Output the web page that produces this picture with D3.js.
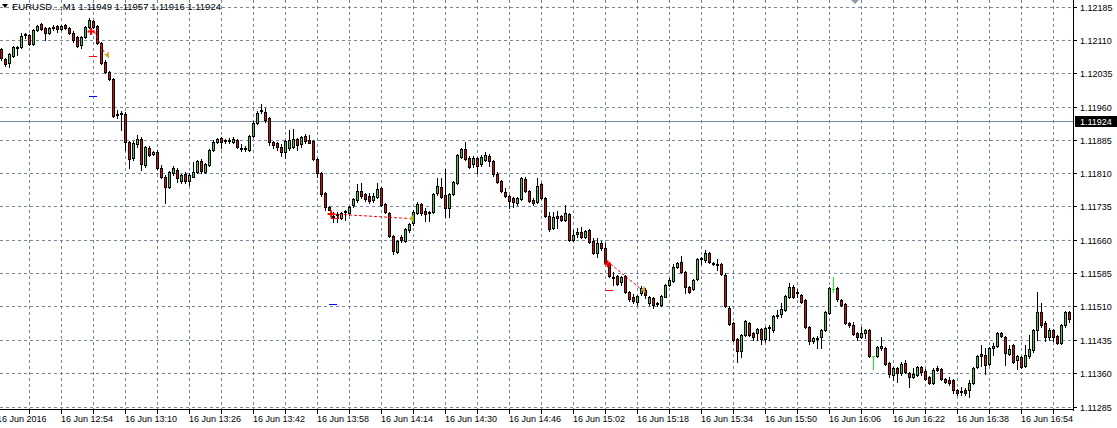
<!DOCTYPE html>
<html><head><meta charset="utf-8">
<script src="https://cdn.jsdelivr.net/npm/d3@7"></script>
<style>
body{margin:0;background:#fff}
svg{display:block}
text{font-family:"Liberation Sans",Arial,sans-serif;font-size:9px;fill:#000}
</style>
</head><body>
<svg id="c" width="1117" height="428"></svg>
<script>
const title = "EURUSD...,M1  1.11949 1.11957 1.11916 1.11924";
const currentPrice = 1.11924;
const priceTicks = [1.12185,1.12110,1.12035,1.11960,1.11885,1.11810,1.11735,1.11660,1.11585,1.11510,1.11435,1.11360,1.11285];
const timeLabels = ["16 Jun 2016","16 Jun 12:54","16 Jun 13:10","16 Jun 13:26","16 Jun 13:42","16 Jun 13:58","16 Jun 14:14","16 Jun 14:30","16 Jun 14:46","16 Jun 15:02","16 Jun 15:18","16 Jun 15:34","16 Jun 15:50","16 Jun 16:06","16 Jun 16:22","16 Jun 16:38","16 Jun 16:54"];
const timeLabelBars = [-1,15,31,47,63,79,95,111,127,143,159,175,191,207,223,239,255];

const open = [
1.12090,1.12067,1.12058,1.12074,1.12092,1.12094,1.12124,1.12121,1.12101,1.12133,
1.12146,1.12137,1.12126,1.12137,1.12142,1.12135,1.12144,1.12137,1.12126,1.12117,
1.12099,1.12117,1.12139,1.12153,1.12142,1.12103,1.12061,1.12038,1.12022,1.11944,
1.11945,1.11944,1.11881,1.11845,1.11876,1.11887,1.11829,1.11867,1.11854,1.11858,
1.11822,1.11802,1.11779,1.11811,1.11818,1.11793,1.11808,1.11793,1.11802,1.11813,
1.11838,1.11813,1.11829,1.11862,1.11881,1.11890,1.11885,1.11884,1.11881,1.11885,
1.11867,1.11865,1.11862,1.11894,1.11923,1.11950,1.11948,1.11934,1.11881,1.11878,
1.11869,1.11858,1.11867,1.11869,1.11887,1.11876,1.11894,1.11885,1.11883,1.11842,
1.11811,1.11766,1.11734,1.11714,1.11715,1.11709,1.11725,1.11721,1.11739,1.11750,
1.11770,1.11763,1.11759,1.11750,1.11757,1.11777,1.11741,1.11721,1.11669,1.11633,
1.11667,1.11658,1.11682,1.11698,1.11721,1.11741,1.11725,1.11723,1.11723,1.11766,
1.11779,1.11761,1.11732,1.11763,1.11788,1.11847,1.11865,1.11844,1.11831,1.11844,
1.11831,1.11840,1.11849,1.11838,1.11808,1.11793,1.11768,1.11759,1.11754,1.11743,
1.11752,1.11797,1.11770,1.11750,1.11745,1.11786,1.11754,1.11714,1.11687,1.11714,
1.11714,1.11705,1.11718,1.11660,1.11673,1.11678,1.11667,1.11682,1.11658,1.11631,
1.11653,1.11642,1.11608,1.11577,1.11579,1.11565,1.11579,1.11543,1.11532,1.11520,
1.11541,1.11547,1.11518,1.11529,1.11517,1.11514,1.11532,1.11559,1.11568,1.11599,
1.11610,1.11588,1.11554,1.11550,1.11572,1.11616,1.11615,1.11631,1.11608,1.11606,
1.11606,1.11581,1.11507,1.11473,1.11437,1.11410,1.11446,1.11473,1.11451,1.11451,
1.11460,1.11437,1.11463,1.11457,1.11488,1.11493,1.11502,1.11532,1.11554,1.11542,
1.11536,1.11525,1.11464,1.11433,1.11439,1.11442,1.11457,1.11496,1.11550,1.11552,
1.11525,1.11516,1.11473,1.11469,1.11451,1.11442,1.11451,1.11457,1.11399,1.11399,
1.11417,1.11417,1.11383,1.11356,1.11372,1.11361,1.11383,1.11361,1.11352,1.11356,
1.11374,1.11365,1.11352,1.11338,1.11372,1.11370,1.11347,1.11345,1.11345,1.11322,
1.11320,1.11322,1.11322,1.11338,1.11374,1.11403,1.11401,1.11381,1.11417,1.11421,
1.11451,1.11442,1.11403,1.11424,1.11390,1.11397,1.11376,1.11399,1.11412,1.11457,
1.11498,1.11473,1.11442,1.11457,1.11444,1.11428,1.11469,1.11498];
const high = [
1.12092,1.12070,1.12081,1.12097,1.12097,1.12126,1.12125,1.12124,1.12135,1.12144,
1.12148,1.12138,1.12139,1.12144,1.12144,1.12144,1.12146,1.12139,1.12130,1.12119,
1.12119,1.12142,1.12160,1.12155,1.12144,1.12106,1.12065,1.12040,1.12025,1.11953,
1.11950,1.11948,1.11883,1.11883,1.11896,1.11892,1.11872,1.11872,1.11860,1.11863,
1.11829,1.11806,1.11815,1.11827,1.11822,1.11809,1.11813,1.11811,1.11836,1.11840,
1.11842,1.11833,1.11865,1.11885,1.11890,1.11892,1.11887,1.11890,1.11892,1.11887,
1.11876,1.11872,1.11896,1.11928,1.11950,1.11966,1.11957,1.11937,1.11883,1.11881,
1.11876,1.11885,1.11907,1.11910,1.11890,1.11894,1.11898,1.11896,1.11885,1.11845,
1.11813,1.11768,1.11736,1.11723,1.11723,1.11723,1.11727,1.11736,1.11754,1.11786,
1.11788,1.11766,1.11766,1.11766,1.11788,1.11779,1.11743,1.11723,1.11671,1.11660,
1.11671,1.11687,1.11698,1.11727,1.11745,1.11743,1.11732,1.11725,1.11766,1.11799,
1.11799,1.11820,1.11766,1.11793,1.11853,1.11867,1.11880,1.11849,1.11849,1.11847,
1.11851,1.11858,1.11853,1.11840,1.11813,1.11795,1.11777,1.11761,1.11757,1.11757,
1.11802,1.11802,1.11772,1.11754,1.11799,1.11788,1.11757,1.11723,1.11723,1.11725,
1.11716,1.11739,1.11721,1.11682,1.11687,1.11689,1.11682,1.11685,1.11664,1.11664,
1.11658,1.11653,1.11610,1.11588,1.11581,1.11578,1.11581,1.11545,1.11538,1.11536,
1.11556,1.11552,1.11534,1.11532,1.11520,1.11536,1.11561,1.11574,1.11606,1.11610,
1.11624,1.11590,1.11556,1.11572,1.11619,1.11622,1.11637,1.11633,1.11610,1.11617,
1.11608,1.11586,1.11511,1.11475,1.11439,1.11448,1.11480,1.11475,1.11453,1.11462,
1.11462,1.11464,1.11469,1.11491,1.11502,1.11518,1.11536,1.11563,1.11559,1.11550,
1.11538,1.11527,1.11466,1.11442,1.11444,1.11460,1.11500,1.11554,1.11577,1.11554,
1.11527,1.11518,1.11475,1.11475,1.11453,1.11464,1.11459,1.11460,1.11399,1.11421,
1.11442,1.11419,1.11385,1.11374,1.11374,1.11385,1.11390,1.11362,1.11372,1.11376,
1.11376,1.11370,1.11354,1.11372,1.11376,1.11372,1.11349,1.11352,1.11347,1.11325,
1.11329,1.11327,1.11345,1.11374,1.11401,1.11424,1.11417,1.11419,1.11428,1.11453,
1.11453,1.11443,1.11424,1.11426,1.11401,1.11399,1.11424,1.11446,1.11460,1.11543,
1.11518,1.11478,1.11462,1.11460,1.11446,1.11471,1.11500,1.11500];
const low = [
1.12065,1.12052,1.12049,1.12072,1.12076,1.12092,1.12114,1.12099,1.12099,1.12130,
1.12133,1.12110,1.12124,1.12133,1.12128,1.12133,1.12135,1.12124,1.12106,1.12094,
1.12092,1.12115,1.12137,1.12137,1.12101,1.12056,1.12036,1.12020,1.11937,1.11935,
1.11908,1.11863,1.11822,1.11840,1.11869,1.11818,1.11824,1.11849,1.11851,1.11820,
1.11800,1.11743,1.11777,1.11806,1.11791,1.11788,1.11788,1.11784,1.11801,1.11811,
1.11811,1.11811,1.11827,1.11860,1.11878,1.11867,1.11878,1.11878,1.11878,1.11867,
1.11860,1.11860,1.11860,1.11892,1.11921,1.11946,1.11925,1.11874,1.11867,1.11862,
1.11849,1.11844,1.11862,1.11867,1.11862,1.11869,1.11878,1.11877,1.11840,1.11802,
1.11759,1.11727,1.11727,1.11700,1.11700,1.11707,1.11705,1.11716,1.11734,1.11745,
1.11754,1.11748,1.11743,1.11745,1.11754,1.11736,1.11720,1.11667,1.11628,1.11631,
1.11655,1.11655,1.11678,1.11694,1.11718,1.11716,1.11703,1.11703,1.11721,1.11761,
1.11754,1.11712,1.11712,1.11761,1.11786,1.11844,1.11840,1.11822,1.11824,1.11811,
1.11826,1.11838,1.11826,1.11804,1.11788,1.11767,1.11757,1.11732,1.11734,1.11739,
1.11750,1.11768,1.11745,1.11739,1.11743,1.11752,1.11712,1.11680,1.11685,1.11687,
1.11703,1.11703,1.11658,1.11658,1.11667,1.11664,1.11664,1.11653,1.11628,1.11622,
1.11637,1.11608,1.11577,1.11559,1.11559,1.11559,1.11541,1.11523,1.11518,1.11514,
1.11536,1.11529,1.11514,1.11507,1.11511,1.11511,1.11531,1.11556,1.11565,1.11597,
1.11586,1.11541,1.11541,1.11547,1.11570,1.11606,1.11610,1.11608,1.11604,1.11592,
1.11581,1.11509,1.11469,1.11433,1.11385,1.11397,1.11444,1.11444,1.11435,1.11435,
1.11426,1.11430,1.11435,1.11453,1.11484,1.11487,1.11500,1.11529,1.11529,1.11532,
1.11518,1.11462,1.11426,1.11428,1.11417,1.11417,1.11455,1.11493,1.11543,1.11523,
1.11511,1.11471,1.11464,1.11446,1.11435,1.11440,1.11440,1.11397,1.11370,1.11397,
1.11412,1.11379,1.11352,1.11345,1.11340,1.11356,1.11361,1.11329,1.11349,1.11354,
1.11356,1.11345,1.11336,1.11336,1.11365,1.11345,1.11338,1.11334,1.11316,1.11311,
1.11311,1.11311,1.11307,1.11336,1.11372,1.11376,1.11358,1.11379,1.11401,1.11419,
1.11442,1.11379,1.11401,1.11383,1.11370,1.11372,1.11374,1.11394,1.11408,1.11435,
1.11464,1.11433,1.11435,1.11433,1.11426,1.11426,1.11464,1.11475];
const close = [
1.12070,1.12056,1.12079,1.12094,1.12094,1.12119,1.12121,1.12101,1.12133,1.12142,
1.12135,1.12126,1.12137,1.12139,1.12135,1.12142,1.12137,1.12126,1.12110,1.12097,
1.12117,1.12139,1.12155,1.12139,1.12103,1.12058,1.12038,1.12022,1.11939,1.11941,
1.11946,1.11881,1.11842,1.11878,1.11887,1.11831,1.11869,1.11851,1.11858,1.11822,
1.11802,1.11779,1.11813,1.11822,1.11800,1.11806,1.11793,1.11806,1.11813,1.11838,
1.11815,1.11831,1.11862,1.11881,1.11887,1.11881,1.11883,1.11885,1.11887,1.11869,
1.11865,1.11867,1.11894,1.11923,1.11946,1.11952,1.11930,1.11881,1.11874,1.11869,
1.11858,1.11883,1.11885,1.11887,1.11874,1.11892,1.11883,1.11878,1.11842,1.11811,
1.11763,1.11734,1.11728,1.11712,1.11717,1.11721,1.11726,1.11734,1.11752,1.11770,
1.11759,1.11752,1.11748,1.11759,1.11775,1.11739,1.11722,1.11669,1.11635,1.11658,
1.11660,1.11685,1.11696,1.11723,1.11741,1.11721,1.11718,1.11722,1.11763,1.11781,
1.11757,1.11732,1.11763,1.11790,1.11851,1.11865,1.11842,1.11824,1.11844,1.11826,
1.11847,1.11851,1.11838,1.11808,1.11790,1.11769,1.11759,1.11748,1.11745,1.11754,
1.11799,1.11770,1.11748,1.11743,1.11781,1.11754,1.11714,1.11685,1.11712,1.11710,
1.11705,1.11721,1.11660,1.11671,1.11678,1.11667,1.11680,1.11655,1.11631,1.11653,
1.11642,1.11610,1.11579,1.11575,1.11561,1.11577,1.11543,1.11527,1.11523,1.11534,
1.11552,1.11536,1.11532,1.11514,1.11515,1.11534,1.11559,1.11570,1.11599,1.11608,
1.11588,1.11554,1.11543,1.11570,1.11617,1.11618,1.11631,1.11610,1.11606,1.11605,
1.11583,1.11511,1.11471,1.11435,1.11410,1.11446,1.11478,1.11446,1.11442,1.11460,
1.11437,1.11462,1.11461,1.11489,1.11490,1.11505,1.11534,1.11554,1.11532,1.11541,
1.11520,1.11464,1.11433,1.11440,1.11440,1.11458,1.11498,1.11552,1.11550,1.11527,
1.11514,1.11473,1.11469,1.11448,1.11442,1.11451,1.11457,1.11398,1.11399,1.11419,
1.11421,1.11381,1.11358,1.11372,1.11361,1.11381,1.11363,1.11352,1.11358,1.11374,
1.11363,1.11347,1.11338,1.11367,1.11367,1.11347,1.11339,1.11338,1.11322,1.11316,
1.11319,1.11316,1.11338,1.11372,1.11399,1.11399,1.11379,1.11417,1.11421,1.11451,
1.11444,1.11406,1.11415,1.11385,1.11399,1.11374,1.11401,1.11415,1.11457,1.11498,
1.11469,1.11442,1.11457,1.11442,1.11428,1.11469,1.11498,1.11482];

// trade objects (bar index, price)
const tradeOpenBar = [22.4, 82.4, 151.5];
const tradeOpenPrice = [1.12129, 1.11718, 1.11606];
const tradeCloseBar = [26.5, 102.5, 160.5];
const tradeClosePrice = [1.12076, 1.11708, 1.11548];
const stopBar = [22.3, 151.3];
const stopPrice = [1.12074, 1.11547];
const takeBar = [22.3, 82.3];
const takePrice = [1.11984, 1.11516];

const W = 1117, H = 428, plotR = 1073, plotB = 410;
const svg = d3.select('#c');
svg.append('rect').attr('width', W).attr('height', H).attr('fill', '#fff');

const N = open.length;
const x = d3.scaleLinear().domain([0, N]).range([0, 4 * N]);
const y = d3.scaleLinear().domain([1.11285, 1.12185]).range([406.5, 6.5]);
const R = v => Math.round(v);
const gridCol = '#778899';

const grid = svg.append('g').attr('shape-rendering', 'crispEdges');
priceTicks.forEach(p => {
  grid.append('line').attr('x1', 0).attr('x2', plotR)
    .attr('y1', R(y(p)) + 0.5).attr('y2', R(y(p)) + 0.5)
    .attr('stroke', gridCol).attr('stroke-dasharray', '3,3');
});
const gridBars = d3.range(7, N, 8);
gridBars.forEach(i => {
  grid.append('line').attr('x1', x(i) + 1.5).attr('x2', x(i) + 1.5)
    .attr('y1', 0).attr('y2', plotB)
    .attr('stroke', gridCol).attr('stroke-dasharray', '3,3');
});

// current price line
grid.append('line').attr('x1', 0).attr('x2', plotR)
  .attr('y1', R(y(currentPrice)) - 0.5).attr('y2', R(y(currentPrice)) - 0.5)
  .attr('stroke', gridCol);

// candles
const cg = svg.append('g').attr('shape-rendering', 'crispEdges');
for (let i = 0; i < N; i++) {
  const o = open[i], h = high[i], l = low[i], c = close[i];
  const yh = R(y(h)), yl = R(y(l));
  if (o === c) {
    cg.append('rect').attr('x', x(i) + 1).attr('y', yh).attr('width', 1).attr('height', yl - yh + 1).attr('fill', '#00ff00');
    cg.append('rect').attr('x', x(i)).attr('y', R(y(o))).attr('width', 3).attr('height', 1).attr('fill', '#00ff00');
    continue;
  }
  cg.append('rect').attr('x', x(i) + 1).attr('y', yh).attr('width', 1).attr('height', yl - yh + 1).attr('fill', '#000');
  const top = R(y(Math.max(o, c))), bot = R(y(Math.min(o, c)));
  cg.append('rect').attr('x', x(i) + 0.5).attr('y', top + 0.5)
    .attr('width', 2).attr('height', Math.max(bot - top, 1))
    .attr('fill', c > o ? '#22dd22' : '#ee0000').attr('stroke', '#000');
}

// trade marks
const tg = svg.append('g');
for (let k = 0; k < tradeOpenBar.length; k++) {
  const x0 = x(tradeOpenBar[k]) + 1.5, y0 = y(tradeOpenPrice[k]);
  const x1 = x(tradeCloseBar[k]) + 1.5, y1 = y(tradeClosePrice[k]);
  tg.append('line').attr('x1', x0 + 3).attr('y1', y0).attr('x2', x1 - 2).attr('y2', y1)
    .attr('stroke', '#ff0000').attr('stroke-dasharray', '3,2');
  tg.append('path').attr('d', `M${x0 - 3.5},${y0}h7M${x0},${y0 - 3.5}v7`)
    .attr('stroke', '#ff0000').attr('stroke-width', 2);
  tg.append('path').attr('d', `M${x1 - 2.5},${y1}L${x1 + 1.5},${y1 - 3.5}L${x1 + 1.5},${y1 + 3.5}Z`)
    .attr('fill', '#daa520');
}
// bracket at second trade
{
  const bx = x(tradeOpenBar[1]) + 1.5, by = y(tradeOpenPrice[1]);
  tg.append('path').attr('d', `M${R(bx)+0.5},${R(by)+0.5}v4h7v-3`).attr('fill', 'none').attr('stroke', '#ff0000')
    .attr('shape-rendering', 'crispEdges');
}
stopBar.forEach((b, k) => {
  tg.append('rect').attr('x', R(x(b))).attr('y', R(y(stopPrice[k]))).attr('width', 8).attr('height', 1)
    .attr('fill', '#ff0000').attr('shape-rendering', 'crispEdges');
});
takeBar.forEach((b, k) => {
  tg.append('rect').attr('x', R(x(b))).attr('y', R(y(takePrice[k]))).attr('width', 8).attr('height', 1)
    .attr('fill', '#0000ff').attr('shape-rendering', 'crispEdges');
});

// axes / frame
const ag = svg.append('g').attr('shape-rendering', 'crispEdges');
ag.append('line').attr('x1', plotR + 0.5).attr('x2', plotR + 0.5).attr('y1', 0).attr('y2', plotB + 0.5).attr('stroke', '#000');
ag.append('line').attr('x1', 0).attr('x2', plotR + 0.5).attr('y1', plotB - 0.5).attr('y2', plotB - 0.5).attr('stroke', '#000');
priceTicks.forEach(p => {
  ag.append('line').attr('x1', plotR).attr('x2', plotR + 4).attr('y1', R(y(p)) + 0.5).attr('y2', R(y(p)) + 0.5).attr('stroke', '#000');
});
gridBars.forEach(i => {
  ag.append('line').attr('x1', x(i) + 1.5).attr('x2', x(i) + 1.5).attr('y1', plotB).attr('y2', plotB + 4).attr('stroke', '#000');
});

const txt = svg.append('g');
priceTicks.forEach(p => {
  txt.append('text').attr('x', 1080).attr('y', R(y(p)) + 4).text(p.toFixed(5));
});
// current price box
ag.append('rect').attr('x', 1075).attr('y', R(y(currentPrice)) - 6).attr('width', 42).attr('height', 11).attr('fill', '#000');
txt.append('text').attr('x', 1080).attr('y', R(y(currentPrice)) + 3).style('fill', '#fff').text(currentPrice.toFixed(5));

timeLabels.forEach((t, k) => {
  txt.append('text').attr('x', x(timeLabelBars[k]) + 1).attr('y', 422).text(t);
});

// title
svg.append('path').attr('d', 'M2,4h6l-3,4Z').attr('fill', '#000');
txt.append('text').attr('x', 12).attr('y', 10).style('font-size', '9.5px').text(title);
// chart shift marker
svg.append('path').attr('d', 'M851,0h8l-4,4Z').attr('fill', '#8a9aaa');
</script>
</body></html>
